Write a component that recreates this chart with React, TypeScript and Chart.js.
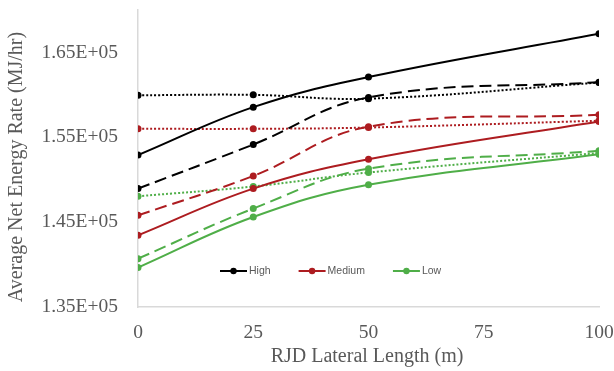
import React, { useEffect, useRef } from "react";
import { Chart, registerables } from "chart.js";

Chart.register(...registerables);

// RJD lateral length (m)
const LENGTHS = [0, 25, 50, 100];

// Average net energy rate (MJ/hr) for each grade, three variants each
const HIGH_SOLID = [152900, 158550, 162100, 167200];
const HIGH_DASHED = [148950, 154150, 159700, 161500];
const HIGH_DOTTED = [159950, 160000, 159550, 161450];

const MEDIUM_SOLID = [143450, 148950, 152400, 156850];
const MEDIUM_DASHED = [145800, 150450, 156250, 157650];
const MEDIUM_DOTTED = [156000, 156000, 156150, 156950];

const LOW_SOLID = [139650, 145600, 149400, 153000];
const LOW_DASHED = [140700, 146600, 151300, 153400];
const LOW_DOTTED = [148050, 149200, 150850, 153150];

const Y_TICKS = [135000, 145000, 155000, 165000];
const Y_TICK_LABELS = ["1.35E+05", "1.45E+05", "1.55E+05", "1.65E+05"];
const X_TICKS = [0, 25, 50, 75, 100];

const LEGEND_NAMES = ["High", "Medium", "Low"];

const BLACK = "#000000";
const RED = "#ad1c20";
const GREEN = "#4fae48";
const TEXT = "#595959";
const AXIS = "#d9d9d9";

const DASHED = [12, 6];
const DOTTED = [2, 2];

function series(label: string, values: number[], color: string, dash: number[]) {
  return {
    label,
    data: LENGTHS.map((x, i) => ({ x, y: values[i] })),
    borderColor: color,
    backgroundColor: color,
    borderWidth: 2,
    borderDash: dash,
    pointRadius: 3.5,
    pointBorderWidth: 0,
    pointBackgroundColor: color,
    tension: 0.4,
    fill: false,
  };
}

// Axis titles and the in-plot legend
const overlayPlugin = {
  id: "overlay",
  afterDraw(chart: any) {
    const { ctx, chartArea } = chart;
    ctx.save();
    ctx.fillStyle = TEXT;
    ctx.font = '20px "Liberation Serif"';
    ctx.textAlign = "center";
    ctx.textBaseline = "middle";
    ctx.fillText("RJD Lateral Length (m)", 367, 357);
    ctx.save();
    ctx.translate(17, 167);
    ctx.rotate(-Math.PI / 2);
    ctx.fillText("Average Net Energy Rate (MJ/hr)", 0, 0);
    ctx.restore();

    const colors = [BLACK, RED, GREEN];
    ctx.font = '10.5px "Liberation Sans"';
    ctx.textAlign = "left";
    let x = chartArea.left + 82;
    const y = 271;
    LEGEND_NAMES.forEach((name, i) => {
      ctx.strokeStyle = colors[i];
      ctx.fillStyle = colors[i];
      ctx.lineWidth = 2;
      ctx.setLineDash([]);
      ctx.beginPath();
      ctx.moveTo(x, y);
      ctx.lineTo(x + 27, y);
      ctx.stroke();
      ctx.beginPath();
      ctx.arc(x + 13.5, y, 3.2, 0, Math.PI * 2);
      ctx.fill();
      ctx.fillStyle = TEXT;
      ctx.fillText(name, x + 29, y + 0.5);
      x += 29 + ctx.measureText(name).width + 28;
    });
    ctx.restore();
  },
};

export default function App() {
  const ref = useRef<HTMLCanvasElement | null>(null);

  useEffect(() => {
    document.body.style.margin = "0";
    const canvas = ref.current;
    if (!canvas) return;
    const chart = new Chart(canvas, {
      type: "line",
      data: {
        datasets: [
          series("High", HIGH_DOTTED, BLACK, DOTTED),
          series("High", HIGH_DASHED, BLACK, DASHED),
          series("High", HIGH_SOLID, BLACK, []),
          series("Medium", MEDIUM_DOTTED, RED, DOTTED),
          series("Medium", MEDIUM_DASHED, RED, DASHED),
          series("Medium", MEDIUM_SOLID, RED, []),
          series("Low", LOW_DOTTED, GREEN, DOTTED),
          series("Low", LOW_DASHED, GREEN, DASHED),
          series("Low", LOW_SOLID, GREEN, []),
        ],
      },
      options: {
        animation: false,
        responsive: false,
        layout: { padding: { top: 10, right: 15, left: 0, bottom: 0 } },
        plugins: {
          legend: { display: false },
          tooltip: { enabled: false },
        },
        scales: {
          x: {
            type: "linear",
            min: 0,
            max: 100,
            grid: { display: false, drawTicks: false },
            border: { display: true, color: AXIS, width: 1.5 },
            afterBuildTicks: (scale: any) => {
              scale.ticks = X_TICKS.map((v) => ({ value: v }));
            },
            afterFit: (scale: any) => {
              scale.height = 64;
              scale.paddingLeft = 0;
              scale.paddingRight = 0;
            },
            ticks: {
              color: TEXT,
              font: { family: "Liberation Serif", size: 19.5 },
              padding: 14,
              maxRotation: 0,
              autoSkip: false,
            },
          },
          y: {
            type: "linear",
            min: 135000,
            max: 170000,
            grid: { display: false, drawTicks: false },
            border: { display: true, color: AXIS, width: 1.5 },
            afterBuildTicks: (scale: any) => {
              scale.ticks = Y_TICKS.map((v) => ({ value: v }));
            },
            afterFit: (scale: any) => {
              scale.width = 138;
              scale.paddingTop = 0;
              scale.paddingBottom = 0;
            },
            ticks: {
              color: TEXT,
              font: { family: "Liberation Serif", size: 19.5 },
              padding: 20,
              autoSkip: false,
              callback: (value: any) => {
                const i = Y_TICKS.indexOf(Number(value));
                return i >= 0 ? Y_TICK_LABELS[i] : "";
              },
            },
          },
        },
      },
      plugins: [overlayPlugin],
    });
    return () => chart.destroy();
  }, []);

  return (
    <div style={{ width: 614, height: 371, background: "#ffffff" }}>
      <canvas ref={ref} width={614} height={371} />
    </div>
  );
}
